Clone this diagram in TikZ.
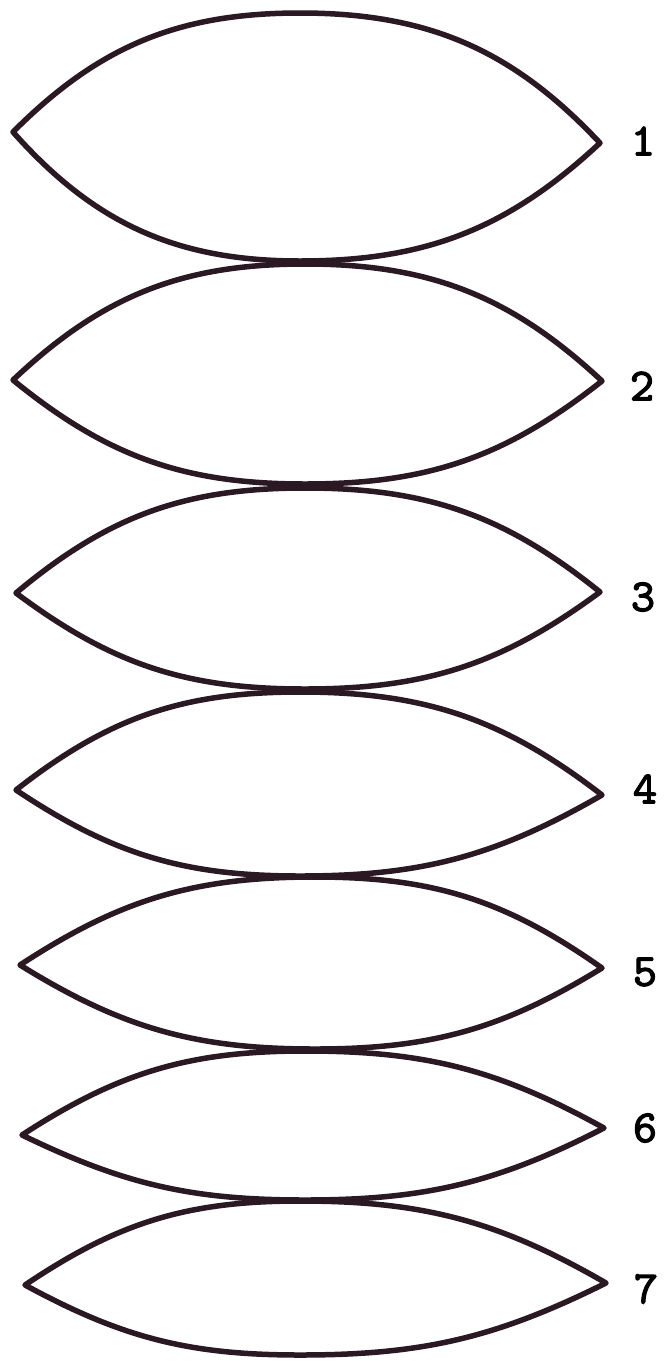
\documentclass[tikz,border=0pt]{standalone}
\usepackage{fontspec}
\newfontfamily\lblfont{lmmono10-regular.otf}[FakeBold=2.5]
\definecolor{ink}{HTML}{2A1822}
\tikzset{
  lens/.style={draw=ink, line width=5.5pt, line join=round, line cap=round},
  lbl/.style={font=\lblfont\fontsize{46}{48}\selectfont, text=black, anchor=center, inner sep=0pt}
}
\newcommand{\lensshape}[7]{%
  % #1 left x, #2 left y, #3 right x, #4 right y, #5 top y, #6 bottom y, #7 mid x
  \pgfmathsetmacro\aUL{2*atan((#2-#5)/(#7-#1))}%
  \pgfmathsetmacro\aUR{2*atan((#4-#5)/(#3-#7))}%
  \pgfmathsetmacro\aBR{2*atan((#6-#4)/(#3-#7))}%
  \pgfmathsetmacro\aBL{2*atan((#6-#2)/(#7-#1))}%
  \draw[lens] (#1,#2) to[out=\aUL,in=180] (#7,#5) to[out=0,in=180-\aUR] (#3,#4)
    to[out=180+\aBR,in=0] (#7,#6) to[out=180,in=-\aBL] cycle;
}
\begin{document}
\begin{tikzpicture}[x=1pt,y=-1pt]
\useasboundingbox (0,0) rectangle (667,1369);
\fill[white] (0,0) rectangle (667,1369);
\lensshape{13}{132}{600}{143}{13}{261}{300}
\lensshape{13}{380}{602}{381}{264}{484}{305}
\lensshape{16}{593}{600}{592}{488}{689}{305}
\lensshape{16}{790}{602}{795}{692}{876}{300}
\lensshape{20}{965}{602}{968}{877}{1049}{315}
\lensshape{22}{1135}{604}{1128}{1051}{1200}{305}
\lensshape{25}{1285}{606}{1283}{1201}{1355}{300}
\node[lbl] (l1) at (643,141) {1};
\node[lbl] (l2) at (642,386) {2};
\node[lbl] (l3) at (643,597) {3};
\node[lbl] (l4) at (645,789) {4};
\node[lbl] (l5) at (645,972) {5};
\node[lbl] (l6) at (645,1128) {6};
\node[lbl] (l7) at (646,1289) {7};
\end{tikzpicture}
\end{document}
